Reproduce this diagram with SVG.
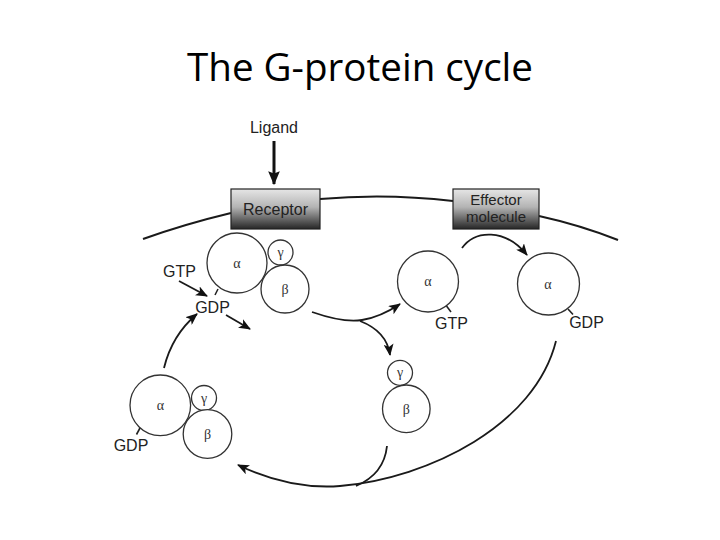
<svg xmlns="http://www.w3.org/2000/svg" width="720" height="540" viewBox="0 0 720 540">
<defs>
<linearGradient id="boxg" x1="0" y1="0" x2="0" y2="1">
<stop offset="0" stop-color="#e6e6e6"/>
<stop offset="0.45" stop-color="#b4b4b4"/>
<stop offset="1" stop-color="#262626"/>
</linearGradient>
<marker id="ah" viewBox="0 0 12 10" refX="11" refY="5" markerWidth="12" markerHeight="10" markerUnits="userSpaceOnUse" orient="auto">
<path d="M0,0 L12,5 L0,10 L3,5 z" fill="#111"/>
</marker>
<marker id="ahb" viewBox="0 0 12 10" refX="11" refY="5" markerWidth="14" markerHeight="12" markerUnits="userSpaceOnUse" orient="auto">
<path d="M0,0 L12,5 L0,10 L2,5 z" fill="#111"/>
</marker>
<style>
.sans{font-family:"Liberation Sans",Arial,sans-serif;fill:#222}
.greek{font-family:"Liberation Serif","DejaVu Serif",serif;fill:#333;font-size:14px;text-anchor:middle}
.c{fill:#fff;stroke:#333;stroke-width:1.3}
.conn{fill:none;stroke:#1a1a1a;stroke-width:1.8}
.mem{fill:none;stroke:#1a1a1a;stroke-width:2}
.tick{stroke:#222;stroke-width:1.6}
.box{fill:url(#boxg);stroke:#222;stroke-width:1.2}
</style>
</defs>
<rect width="720" height="540" fill="#fff"/>
<text x="360" y="81" text-anchor="middle" font-family="'Open Sans','Liberation Sans',sans-serif" font-size="38" textLength="346" lengthAdjust="spacingAndGlyphs" fill="#000">The G-protein cycle</text>

<g id="membrane">
<path class="mem" d="M143,239 Q185,224 231,213"/>
<path class="mem" d="M320,199 Q386,193 453,201"/>
<path class="mem" d="M539,216 Q580,225 618,240"/>
</g>

<g id="ligand">
<text class="sans" x="274" y="133" font-size="16" text-anchor="middle">Ligand</text>
</g>

<g id="receptor">
<rect class="box" x="231" y="189" width="89" height="40"/>
<text class="sans" x="275.5" y="215" font-size="16" text-anchor="middle">Receptor</text>
</g>

<g id="effector">
<rect class="box" x="453" y="189" width="86" height="40"/>
<text class="sans" x="496" y="205" font-size="15" text-anchor="middle">Effector</text>
<text class="sans" x="496" y="222" font-size="15" text-anchor="middle">molecule</text>
</g>

<g id="heterotrimer-top">
<circle class="c" cx="237" cy="263" r="30"/>
<circle class="c" cx="280.5" cy="252.5" r="12.5"/>
<circle class="c" cx="285" cy="289" r="24"/>
<text class="greek" x="237" y="268">α</text>
<text class="greek" x="280.5" y="257">γ</text>
<text class="greek" x="285" y="294">β</text>
<line class="tick" x1="218" y1="289" x2="215" y2="295"/>
<text class="sans" x="179.5" y="277" font-size="16" text-anchor="middle">GTP</text>
<text class="sans" x="212.5" y="313" font-size="16" text-anchor="middle">GDP</text>
</g>

<g id="alpha-gtp">
<circle class="c" cx="428" cy="281.5" r="30.5"/>
<text class="greek" x="428" y="286">α</text>
<line class="tick" x1="446.5" y1="306" x2="451" y2="312"/>
<text class="sans" x="451.5" y="329" font-size="16" text-anchor="middle">GTP</text>
</g>

<g id="alpha-gdp">
<circle class="c" cx="548.5" cy="284" r="31"/>
<text class="greek" x="548" y="289">α</text>
<line class="tick" x1="568" y1="309" x2="573" y2="314.5"/>
<text class="sans" x="586.5" y="328" font-size="16" text-anchor="middle">GDP</text>
</g>

<g id="beta-gamma">
<circle class="c" cx="400" cy="372.8" r="12.5"/>
<circle class="c" cx="406.3" cy="408.8" r="23.8"/>
<text class="greek" x="400" y="377">γ</text>
<text class="greek" x="406.3" y="414">β</text>
</g>

<g id="heterotrimer-bottom">
<circle class="c" cx="160.3" cy="405.3" r="30.3"/>
<circle class="c" cx="204" cy="398" r="12.5"/>
<circle class="c" cx="207.5" cy="434" r="24.3"/>
<text class="greek" x="160.3" y="410">α</text>
<text class="greek" x="204" y="402.5">γ</text>
<text class="greek" x="207.5" y="439">β</text>
<line class="tick" x1="140" y1="428" x2="136.5" y2="434.5"/>
<text class="sans" x="131" y="451" font-size="16" text-anchor="middle">GDP</text>
</g>

<g id="connectors">
<line x1="274" y1="141" x2="274" y2="184" stroke="#111" stroke-width="3" marker-end="url(#ahb)"/>
<line class="conn" x1="179" y1="281" x2="207" y2="296" marker-end="url(#ah)"/>
<line class="conn" x1="226" y1="315" x2="250" y2="329" marker-end="url(#ah)"/>
<path class="conn" d="M164,368 Q172,335 197,314" marker-end="url(#ah)"/>
<path class="conn" d="M312,312 C335,320 350,322 362,320 C375,318 388,312 400,304" marker-end="url(#ah)"/>
<path class="conn" d="M360,321 C378,328 388,340 390,355" marker-end="url(#ah)"/>
<path class="conn" d="M462,248 C475,230 505,228 527,255" marker-end="url(#ah)"/>
<path class="conn" d="M556,341 C535,425 430,478 340,486 C300,489 265,478 238,465" marker-end="url(#ah)"/>
<path class="conn" d="M387,446 C385,465 375,478 356,486"/>
</g>
</svg>
